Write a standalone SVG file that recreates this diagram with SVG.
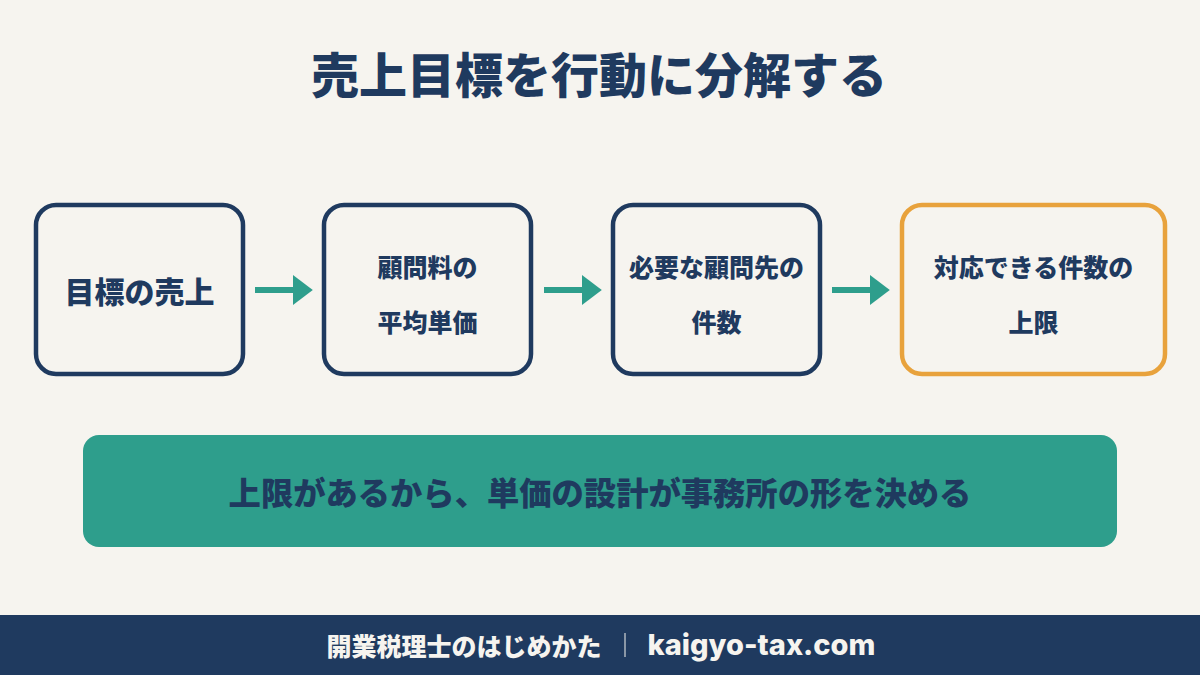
<svg xmlns="http://www.w3.org/2000/svg" width="1200" height="675" viewBox="0 0 1200 675">
<style>
.t{font-family:"Noto Sans CJK JP","Noto Sans",sans-serif;font-weight:900;fill:#1f3a5f;text-anchor:middle;dominant-baseline:central}
.box{fill:#f6f4ef;stroke:#1f3a5f;stroke-width:4.5}
.arr{stroke:#2e9e8c;stroke-width:6}
</style>
<defs>
<marker id="ah" markerWidth="4" markerHeight="5" refX="0" refY="2.5" orient="auto" markerUnits="strokeWidth">
<path d="M0,0 L3.3,2.5 L0,5 Z" fill="#2e9e8c"/>
</marker>
</defs>
<rect width="1200" height="675" fill="#f6f4ef"/>
<text class="t" x="599" y="72" font-size="48">売上目標を行動に分解する</text>
<g id="n1"><rect class="box" x="36" y="205" width="207" height="169" rx="20"/><text class="t" x="139.5" y="290" font-size="30">目標の売上</text></g>
<g id="n2"><rect class="box" x="324" y="205" width="207" height="169" rx="20"/><text class="t" x="427.5" y="266" font-size="25">顧問料の</text><text class="t" x="427.5" y="321" font-size="25">平均単価</text></g>
<g id="n3"><rect class="box" x="613" y="205" width="207" height="169" rx="20"/><text class="t" x="716.5" y="266" font-size="25">必要な顧問先の</text><text class="t" x="716.5" y="321" font-size="25">件数</text></g>
<g id="n4"><rect class="box" x="902" y="205" width="263" height="169" rx="20" style="stroke:#e8a23c"/><text class="t" x="1033.5" y="266" font-size="25">対応できる件数の</text><text class="t" x="1033.5" y="321" font-size="25">上限</text></g>
<g id="connectors">
<line class="arr" x1="255" y1="290" x2="293" y2="290" marker-end="url(#ah)"/>
<line class="arr" x1="544" y1="290" x2="582" y2="290" marker-end="url(#ah)"/>
<line class="arr" x1="832" y1="290" x2="870" y2="290" marker-end="url(#ah)"/>
</g>
<g id="banner"><rect x="83" y="435" width="1034" height="112" rx="16" fill="#2e9e8c"/><text class="t" x="600" y="491" font-size="32.3">上限があるから、単価の設計が事務所の形を決める</text></g>
<g id="footer"><rect x="0" y="615" width="1200" height="60" fill="#1f3a5f"/>
<text class="t" x="464" y="645" font-size="25" style="fill:#f6f4ef">開業税理士のはじめかた</text>
<line x1="625" y1="633" x2="625" y2="657" stroke="#f6f4ef" stroke-width="1"/>
<text class="t" x="761.5" y="644" font-size="29" style="fill:#f6f4ef;font-family:Inter,'Noto Sans',sans-serif;font-weight:800">kaigyo-tax.com</text>
</g>
</svg>
